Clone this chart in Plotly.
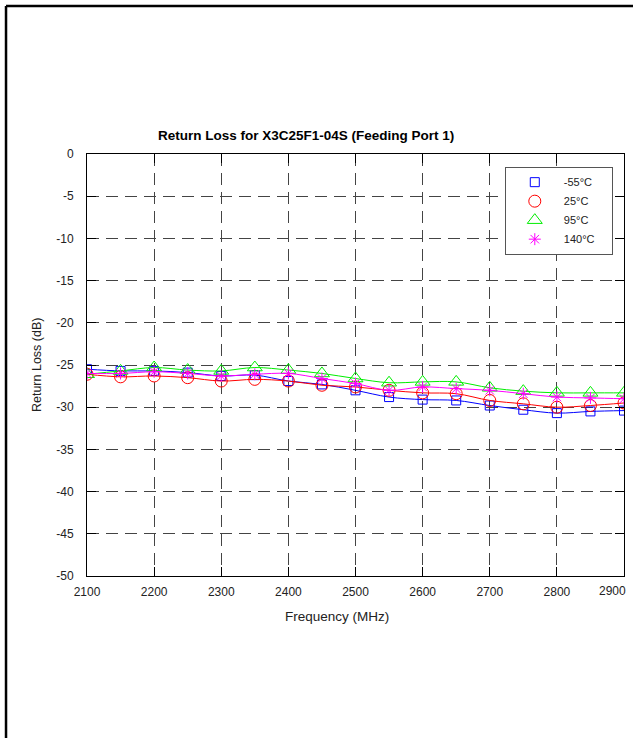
import plotly.graph_objects as go

# Frequency points (MHz)
freq = [2100, 2150, 2200, 2250, 2300, 2350, 2400, 2450, 2500,
        2550, 2600, 2650, 2700, 2750, 2800, 2850, 2900]

# Return loss (dB) per temperature
rl_m55 = [-25.5, -25.7, -25.7, -25.9, -26.3, -26.2, -26.9, -27.3, -28.0,
          -28.8, -29.1, -29.2, -29.8, -30.3, -30.7, -30.5, -30.4]
rl_25 = [-26.1, -26.4, -26.3, -26.5, -26.9, -26.7, -26.9, -27.4, -27.6,
         -28.0, -28.3, -28.4, -29.2, -29.6, -30.0, -29.8, -29.5]
rl_95 = [-26.1, -25.7, -25.3, -25.6, -25.7, -25.3, -25.6, -26.0, -26.6,
         -27.1, -27.0, -27.0, -27.7, -28.1, -28.3, -28.3, -28.3]
rl_140 = [-26.0, -26.0, -25.8, -26.0, -26.3, -26.1, -26.0, -26.6, -27.2,
          -28.0, -27.6, -27.8, -28.0, -28.4, -28.8, -28.9, -29.0]

series = [
    ("-55°C", rl_m55, "#0000ff", "square-open", 9),
    ("25°C", rl_25, "#ff0000", "circle-open", 12),
    ("95°C", rl_95, "#00ee00", "triangle-up-open", 13),
    ("140°C", rl_140, "#ff00ff", "asterisk-open", 10),
]

NBSP = "\u00a0"

x_ticks = list(range(2100, 2901, 100))
# the last label is drawn separately, right-aligned to the axis end
x_tick_text = [str(v) for v in x_ticks[:-1]] + [""]
y_ticks = list(range(-50, 1, 5))
y_tick_text = [str(v) for v in y_ticks]  # plain hyphen minus

FONT = "Arial, Liberation Sans, Helvetica, sans-serif"
TICK_FONT = dict(family=FONT, size=12, color="#222222")

fig = go.Figure()

for name, vals, color, sym, size in series:
    fig.add_trace(go.Scatter(
        x=freq, y=vals, mode="lines+markers", name=name,
        line=dict(color=color, width=1, shape="spline", smoothing=1.0),
        marker=dict(symbol=sym, size=size, color=color,
                    line=dict(color=color, width=1)),
        showlegend=False,
    ))

# legend entries show markers only
for name, vals, color, sym, size in series:
    fig.add_trace(go.Scatter(
        x=[None], y=[None], mode="markers", name=name + NBSP * 4,
        marker=dict(symbol=sym, size=size, color=color,
                    line=dict(color=color, width=1)),
        showlegend=True,
    ))

axis_common = dict(
    showgrid=True, gridcolor="#444444", gridwidth=1, griddash="12px,7px",
    showline=True, linecolor="black", linewidth=1, mirror="ticks",
    ticks="inside", ticklen=9, tickcolor="black", tickwidth=1,
    zeroline=False, automargin=False,
    tickfont=TICK_FONT,
)

fig.update_xaxes(range=[2100, 2900], tickvals=x_ticks, ticktext=x_tick_text,
                 ticklabelstandoff=5, **axis_common)
fig.update_yaxes(range=[-50, 0], tickvals=y_ticks, ticktext=y_tick_text,
                 ticklabelstandoff=10, **axis_common)

annotations = [
    dict(text="<b>Return Loss for X3C25F1-04S (Feeding Port 1)</b>",
         xref="paper", yref="paper", x=0.408, y=1.045,
         xanchor="center", yanchor="middle", showarrow=False,
         font=dict(family=FONT, size=13.5, color="black")),
    dict(text="Return Loss (dB)", textangle=-90,
         xref="paper", yref="paper", x=-0.093, y=0.5,
         xanchor="center", yanchor="middle", showarrow=False,
         font=dict(family=FONT, size=12.5, color="#222222")),
    dict(text="Frequency (MHz)",
         xref="paper", yref="paper", x=0.4655, y=-0.095,
         xanchor="center", yanchor="middle", showarrow=False,
         font=dict(family=FONT, size=13.5, color="#222222")),
    dict(text=str(x_ticks[-1]),
         xref="x", yref="paper", x=x_ticks[-1], xshift=4, y=-0.036,
         xanchor="right", yanchor="middle", showarrow=False,
         font=TICK_FONT),
]

# page frame (left and top edges)
shapes = [
    dict(type="line", xref="paper", yref="paper",
         x0=-0.1508, x1=-0.1508, y0=1.3507, y1=-0.45,
         line=dict(color="black", width=2.5)),
    dict(type="line", xref="paper", yref="paper",
         x0=-0.1508, x1=1.05, y0=1.3507, y1=1.3507,
         line=dict(color="black", width=2.5)),
]

fig.update_layout(
    width=633, height=738,
    margin=dict(l=87, r=9, t=154, b=162, autoexpand=False),
    paper_bgcolor="white", plot_bgcolor="white",
    font=dict(family=FONT, size=11, color="#222222"),
    annotations=annotations, shapes=shapes,
    legend=dict(
        x=0.778, y=0.97, xanchor="left", yanchor="top",
        bgcolor="white", bordercolor="#555555", borderwidth=1,
        font=dict(family=FONT, size=11, color="#222222"),
        itemwidth=48, tracegroupgap=0,
    ),
)

fig.write_html("out.html")
